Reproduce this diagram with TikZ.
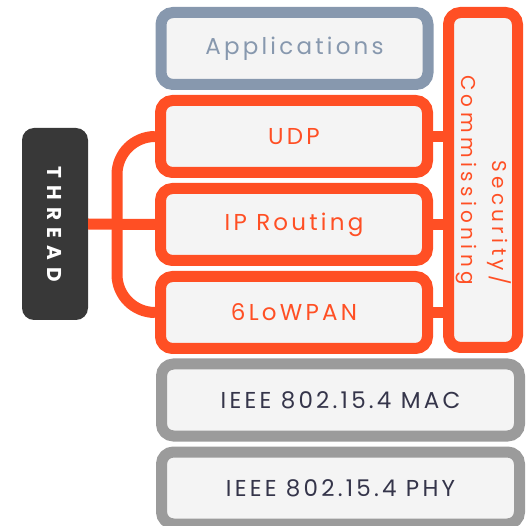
\documentclass[tikz,border=0pt]{standalone}
\usepackage{fontspec}
\setmainfont[LetterSpace=14]{Poppins}
\usepackage{tikz}
\usetikzlibrary{calc,positioning}
\definecolor{thrRed}{HTML}{FF4F24}
\definecolor{appBlue}{HTML}{8798AE}
\definecolor{macGray}{HTML}{9B9B9B}
\definecolor{boxFill}{HTML}{F4F4F4}
\definecolor{darkBox}{HTML}{383838}
\definecolor{ieeeText}{HTML}{35354A}
\tikzset{
  layer/.style={draw, line width=11pt, rounded corners=12pt, fill=boxFill,
    minimum width=267pt, minimum height=72pt, inner sep=0pt,
    font=\fontsize{23}{26}\selectfont},
  redlayer/.style={layer, draw=thrRed, text=thrRed},
  graylayer/.style={layer, draw=macGray, text=ieeeText, minimum width=358pt},
  link/.style={draw=thrRed, line width=11pt}
}
\begin{document}
\begin{tikzpicture}[x=1pt,y=-1pt]
\useasboundingbox (0,0) rectangle (530,526);
\node[layer, draw=appBlue, text=appBlue] (app) at (294.5,48.5) {Applications};
\node[redlayer] (udp) at (294,136.5) {UDP};
\node[redlayer] (ip) at (294,224.5) {IP Routing};
\node[redlayer] (low) at (294,312.5) {6LoWPAN};
\node[graylayer] (mac) at (340.5,400) {IEEE 802.15.4 MAC};
\node[graylayer] (phy) at (340.5,488) {IEEE 802.15.4 PHY};
\node[redlayer, minimum width=69pt, minimum height=335pt,
  font=\fontsize{20}{31}\selectfont\addfontfeature{LetterSpace=22}] (sec) at (483,180)
  {\rotatebox{-90}{\begin{tabular}{@{}r@{}}Security/\\Commissioning\end{tabular}}};
\node[fill=darkBox, rounded corners=12pt, minimum width=66pt, minimum height=192pt,
  text=white, font=\bfseries\fontsize{20}{22}\selectfont\addfontfeature{LetterSpace=36}] (thread) at (55,224)
  {\rotatebox{-90}{THREAD}};
% links to the side box
\draw[link] (udp.east) -- (udp.east -| sec.west);
\draw[link] (ip.east) -- (ip.east -| sec.west);
\draw[link] (low.east) -- (low.east -| sec.west);
% brace on the left
\coordinate (bx) at (117,224.5);
\draw[link, rounded corners=38pt] (udp.west) -| (bx) |- (low.west);
\draw[link] (thread.east) -- (ip.west);
\end{tikzpicture}
\end{document}
